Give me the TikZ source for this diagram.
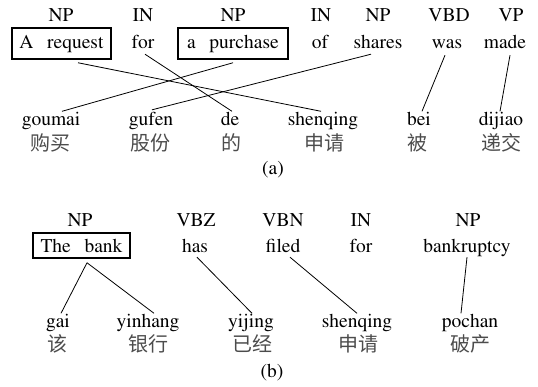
\documentclass[tikz,border=0pt]{standalone}
\usepackage{fontspec}
\usepackage[T1,TU]{fontenc}
\newfontfamily\cjk{Noto Sans CJK SC}
\newcommand\tms{\fontencoding{T1}\fontfamily{ptm}\selectfont}
\begin{document}
\begin{tikzpicture}[x=1pt,y=-1pt,
  w/.style={inner sep=0pt, text height=13.5pt, text depth=4pt, anchor=base, font=\tms\fontsize{19.5}{23}\selectfont},
  zh/.style={inner sep=0pt, anchor=base, font=\cjk\fontsize{20}{24}\selectfont, text=black!70},
  bx/.style={draw, line width=1.5pt, inner sep=0pt, anchor=center, font=\tms\fontsize{19.5}{23}\selectfont},
  ln/.style={line width=0.8pt}]
\path[use as bounding box] (0,0) rectangle (538,386);

% ---------- (a) ----------
\node[w] (ta1) at (61,21) {NP};
\node[w] (ta2) at (143,21) {IN};
\node[w] (ta3) at (233,21) {NP};
\node[w] (ta4) at (321,21) {IN};
\node[w] (ta5) at (378,21) {NP};
\node[w] (ta6) at (449,21) {VBD};
\node[w] (ta7) at (511,21) {VP};

\node[bx, minimum width=99pt, minimum height=31pt, text height=13.5pt, text depth=4pt] (req) at (61.5,43.5) {A\hspace{0.7em}request};
\node[w] (for) at (143,48) {for};
\node[bx, minimum width=110pt, minimum height=31pt, text height=13.5pt, text depth=4pt] (pur) at (233,43.5) {a\hspace{0.7em}purchase};
\node[w] (of) at (320,48) {of};
\node[w] (shares) at (378,48) {shares};
\node[w] (was) at (447,48) {was};
\node[w] (made) at (505,48) {made};

\node[w] (goumai) at (51,125) {goumai};
\node[w] (gufen) at (151,125) {gufen};
\node[w] (de) at (230,125) {de};
\node[w] (shenqing) at (323,125) {shenqing};
\node[w] (bei) at (419,125) {bei};
\node[w] (dijiao) at (501,125) {dijiao};

\node[zh] (za1) at (50,150) {购买};
\node[zh] (za2) at (150,150) {股份};
\node[zh] (za3) at (231,150) {的};
\node[zh] (za4) at (324,150) {申请};
\node[zh] (za5) at (417,150) {被};
\node[zh] (za6) at (501,150) {递交};

\node[w] (capa) at (273,174) {(a)};

\draw[ln] ([xshift=16.5pt,yshift=-3pt]req.south) -- ([xshift=-2pt]shenqing.north);
\draw[ln] ([xshift=2pt,yshift=-2pt]for.south) -- ([xshift=2pt]de.north);
\draw[ln] ([yshift=-3pt]pur.south) -- ([xshift=11pt]goumai.north);
\draw[ln] ([xshift=-7pt,yshift=-2pt]shares.south) -- ([xshift=1pt,yshift=1.5pt]gufen.north);
\draw[ln] ([xshift=-2pt,yshift=-3pt]was.south) -- ([xshift=3pt]bei.north);
\draw[ln] ([xshift=5pt,yshift=-3pt]made.south) -- ([xshift=-1pt]dijiao.north);

% ---------- (b) ----------
\node[w] (tb1) at (80,226) {NP};
\node[w] (tb2) at (196,226) {VBZ};
\node[w] (tb3) at (283,226) {VBN};
\node[w] (tb4) at (361,226) {IN};
\node[w] (tb5) at (468,226) {NP};

\node[bx, minimum width=97pt, minimum height=25pt, text height=15pt, text depth=2pt] (bank) at (81.5,245.5) {The\hspace{0.7em}bank};
\node[w] (has) at (195,252) {has};
\node[w] (filed) at (283,252) {filed};
\node[w] (forb) at (361,252) {for};
\node[w] (bankr) at (467,252) {bankruptcy};

\node[w] (gai) at (58,327) {gai};
\node[w] (yinhang) at (148,327) {yinhang};
\node[w] (yijing) at (251,327) {yijing};
\node[w] (shenqingb) at (357,327) {shenqing};
\node[w] (pochan) at (470,327) {pochan};

\node[zh] (zb1) at (57,351) {该};
\node[zh] (zb2) at (148,351) {银行};
\node[zh] (zb3) at (252,351) {已经};
\node[zh] (zb4) at (358,351) {申请};
\node[zh] (zb5) at (470,351) {破产};

\node[w] (capb) at (272,377) {(b)};

\draw[ln] ([xshift=5.5pt,yshift=-4pt]bank.south) -- ([xshift=3pt]gai.north);
\draw[ln] ([xshift=5.5pt,yshift=-4pt]bank.south) -- ([xshift=6pt]yinhang.north);
\draw[ln] ([xshift=2pt,yshift=-1pt]has.south) -- ([xshift=1pt]yijing.north);
\draw[ln] ([xshift=7pt,yshift=-1pt]filed.south) -- (shenqingb.north);
\draw[ln] ([yshift=-1pt]bankr.south) -- ([xshift=-9pt]pochan.north);
\end{tikzpicture}
\end{document}
